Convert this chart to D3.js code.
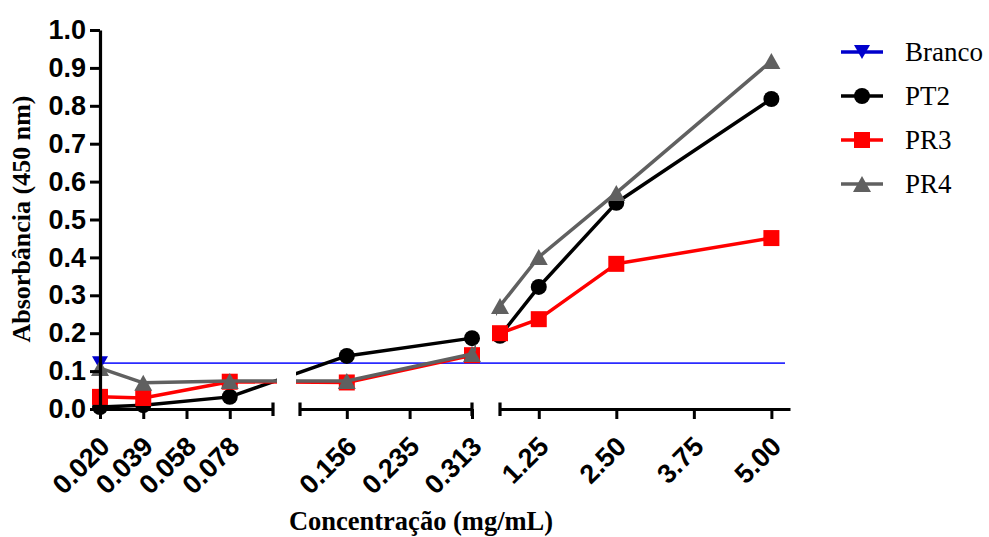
<!DOCTYPE html>
<html>
<head>
<meta charset="utf-8">
<script src="https://cdn.jsdelivr.net/npm/d3@7"></script>
<style>
  body { margin: 0; background: #fff; }
  svg { display: block; }
</style>
</head>
<body>
<svg id="chart" width="989" height="537"></svg>
<script>
// concentrations (mg/mL), one per point
const concentrations = [0.0195, 0.039, 0.078, 0.156, 0.3125, 0.625, 1.25, 2.5, 5.0];

const pt2 = [0.005, 0.010, 0.032, 0.140, 0.187, 0.193, 0.322, 0.544, 0.818];
const pr3 = [0.032, 0.029, 0.072, 0.070, 0.142, 0.200, 0.237, 0.383, 0.451];
const pr4 = [0.108, 0.069, 0.074, 0.074, 0.145, 0.272, 0.401, 0.570, 0.918];
const branco = [0.121];   // single reading at first concentration, drawn as reference line

const seriesNames = ['Branco', 'PT2', 'PR3', 'PR4'];

// broken x axis: three linear pieces
const segDomains = [[0.0195, 0.0975], [0.0975, 0.3125], [0.625, 5.3]];
const segTicks = [[0.0195, 0.039, 0.0585, 0.078], [0.156, 0.2345, 0.3125], [1.25, 2.5, 3.75, 5.0]];
const segTickLabels = [['0.020', '0.039', '0.058', '0.078'], ['0.156', '0.235', '0.313'], ['1.25', '2.50', '3.75', '5.00']];

const yTicks = d3.range(0, 11).map(i => i / 10);

// ---- layout ----
const segRanges = [[100, 273], [300, 472], [500, 790]];
const clipRanges = [[90, 277], [296, 476], [496, 795]];
const yTop = 30, yBottom = 409;

const COLORS = {
    Branco: '#0000cc',
    BrancoLine: '#2b2bff',
    PT2: '#000000',
    PR3: '#ff0000',
    PR4: '#606060'
};
const SYMBOLS = { Branco: 'tdown', PT2: 'circle', PR3: 'square', PR4: 'tup' };

const svg = d3.select('#chart');

const y = d3.scaleLinear().domain([0, 1]).range([yBottom, yTop]);
const xScales = segDomains.map((dom, i) => d3.scaleLinear().domain(dom).range(segRanges[i]));

function xPos(c) {
    for (let i = 0; i < segDomains.length; i++) {
        if (c >= segDomains[i][0] - 1e-9 && c <= segDomains[i][1] + 1e-9) return xScales[i](c);
    }
    return null;
}

// clip for the broken axis
const clip = svg.append('defs').append('clipPath').attr('id', 'segClip');
clipRanges.forEach(r => {
    clip.append('rect').attr('x', r[0]).attr('y', 0).attr('width', r[1] - r[0]).attr('height', 537);
});

function drawSymbol(g, type, cx, cy, color) {
    if (type === 'circle') {
        g.append('circle').attr('cx', cx).attr('cy', cy).attr('r', 8).attr('fill', color);
    } else if (type === 'square') {
        g.append('rect').attr('x', cx - 8).attr('y', cy - 8).attr('width', 16).attr('height', 16).attr('fill', color);
    } else if (type === 'tup') {
        g.append('path').attr('d', `M${cx},${cy - 8}L${cx + 9},${cy + 8}L${cx - 9},${cy + 8}Z`).attr('fill', color);
    } else if (type === 'tdown') {
        g.append('path').attr('d', `M${cx - 8},${cy - 7}L${cx + 8},${cy - 7}L${cx},${cy + 7}Z`).attr('fill', color);
    }
}

// ---- Branco reference ----
const plot = svg.append('g');
plot.append('line')
    .attr('x1', xPos(concentrations[0])).attr('x2', 785)
    .attr('y1', y(branco[0])).attr('y2', y(branco[0]))
    .attr('stroke', COLORS.BrancoLine).attr('stroke-width', 1.6);
drawSymbol(plot, SYMBOLS.Branco, xPos(concentrations[0]), y(branco[0]), COLORS.Branco);

// ---- series ----
const seriesData = [
    { name: 'PT2', values: pt2 },
    { name: 'PR3', values: pr3 },
    { name: 'PR4', values: pr4 }
];

const line = d3.line().x(d => xPos(d.c)).y(d => y(d.v));

seriesData.forEach(s => {
    const pts = s.values.map((v, i) => ({ c: concentrations[i], v: v }));
    const g = plot.append('g');
    g.append('path')
        .attr('d', line(pts))
        .attr('clip-path', 'url(#segClip)')
        .attr('fill', 'none')
        .attr('stroke', COLORS[s.name])
        .attr('stroke-width', 3.5)
        .attr('stroke-linejoin', 'round');
    pts.forEach(p => drawSymbol(g, SYMBOLS[s.name], xPos(p.c), y(p.v), COLORS[s.name]));
});

// ---- y axis ----
const yAxis = svg.append('g')
    .attr('transform', `translate(${segRanges[0][0]},0)`)
    .call(d3.axisLeft(y).tickValues(yTicks).tickFormat(d3.format('.1f')).tickSize(10).tickSizeOuter(0).tickPadding(4));
yAxis.select('.domain').attr('stroke-width', 3.2);
yAxis.selectAll('.tick line').attr('stroke-width', 3);
yAxis.selectAll('.tick text')
    .attr('font-family', '"Liberation Sans", Arial, sans-serif')
    .attr('font-weight', 'bold')
    .attr('font-size', 27)
    .attr('fill', '#000');

// ---- x axis (three pieces) ----
xScales.forEach((sc, i) => {
    const ax = svg.append('g')
        .attr('transform', `translate(0,${yBottom})`)
        .call(d3.axisBottom(sc).tickValues(segTicks[i])
            .tickFormat((d, j) => segTickLabels[i][j]).tickSize(10).tickSizeOuter(0));
    ax.select('.domain').attr('stroke-width', 3.2);
    ax.selectAll('.tick line').attr('stroke-width', 3);
    ax.selectAll('.tick text')
        .attr('font-family', '"Liberation Sans", Arial, sans-serif')
        .attr('font-weight', 'bold')
        .attr('font-size', 27)
        .attr('fill', '#000')
        .attr('text-anchor', 'end')
        .attr('y', 0)
        .attr('dy', 0)
        .attr('transform', 'translate(11,39) rotate(-45)');

    // end caps of each piece
    const r = segRanges[i];
    const caps = [];
    if (i > 0) caps.push(r[0]);
    if (i < xScales.length - 1) caps.push(r[1]);
    caps.forEach(cx => {
        svg.append('line')
            .attr('x1', cx).attr('x2', cx)
            .attr('y1', yBottom - 6.5).attr('y2', yBottom + 7)
            .attr('stroke', '#000').attr('stroke-width', 3.2);
    });
});

// ---- axis titles ----
svg.append('text')
    .attr('x', 421).attr('y', 530)
    .attr('text-anchor', 'middle')
    .attr('font-family', '"Liberation Serif", "Times New Roman", serif')
    .attr('font-weight', 'bold')
    .attr('font-size', 26.5)
    .text('Concentração (mg/mL)');

svg.append('text')
    .attr('transform', 'translate(30,219) rotate(-90)')
    .attr('text-anchor', 'middle')
    .attr('font-family', '"Liberation Serif", "Times New Roman", serif')
    .attr('font-weight', 'bold')
    .attr('font-size', 26)
    .text('Absorbância (450 nm)');

// ---- legend ----
const legend = svg.append('g');
seriesNames.forEach((name, i) => {
    const cy = 52 + i * 44;
    legend.append('line')
        .attr('x1', 841).attr('x2', 883)
        .attr('y1', cy).attr('y2', cy)
        .attr('stroke', COLORS[name]).attr('stroke-width', 3.5);
    drawSymbol(legend, SYMBOLS[name], 862, cy, COLORS[name]);
    legend.append('text')
        .attr('x', 905).attr('y', cy + 9)
        .attr('font-family', '"Liberation Serif", "Times New Roman", serif')
        .attr('font-size', 27)
        .text(name);
});
</script>
</body>
</html>
